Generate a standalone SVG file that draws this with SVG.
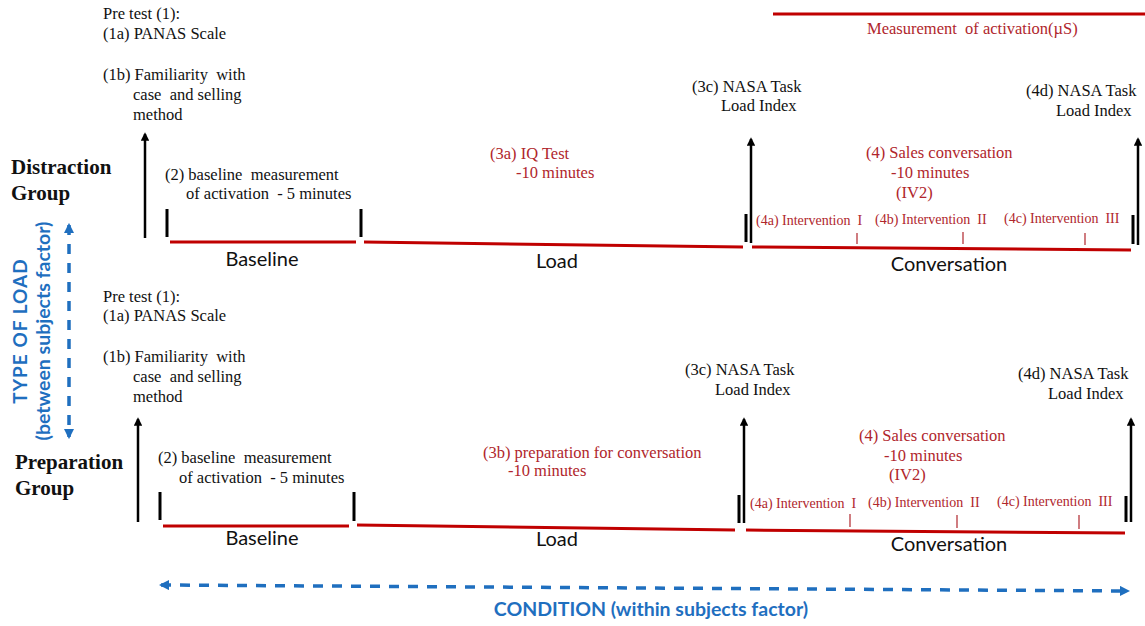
<svg xmlns="http://www.w3.org/2000/svg" width="1145" height="626" viewBox="0 0 1145 626">
<defs>
<style>
.s{font-family:"Liberation Serif","Times New Roman",serif;font-size:16.5px;fill:#111;white-space:pre}
.r{fill:#B0262C}
.sm{font-size:14px}
.b{font-weight:bold;font-size:21px}
.ph{font-family:Lato,"Open Sans",sans-serif;font-size:20px;fill:#111;text-anchor:middle}
.bl{font-family:Lato,"Open Sans",sans-serif;font-weight:bold;fill:#1F6FBF}
.rl{stroke:#C00000;stroke-width:3;fill:none}
.tk{stroke:#000;stroke-width:3}
.st{stroke:#B0262C;stroke-width:1.2}
.ar{stroke:#000;stroke-width:2.5;marker-end:url(#ah)}
.da{stroke:#1F6FBF;stroke-width:3.5;stroke-dasharray:10 9;fill:none;marker-start:url(#bh);marker-end:url(#bh)}
</style>
<marker id="ah" viewBox="0 0 10 10" refX="8" refY="5" markerWidth="3.4" markerHeight="3.4" orient="auto" markerUnits="strokeWidth"><path d="M0,0 L10,5 L0,10 z" fill="#000"/></marker>
<marker id="bh" viewBox="0 0 10 10" refX="8" refY="5" markerWidth="3" markerHeight="3" orient="auto-start-reverse" markerUnits="strokeWidth"><path d="M0,0 L10,5 L0,10 z" fill="#1F6FBF"/></marker>
</defs>
<rect width="1145" height="626" fill="#fff"/>

<g id="measurement">
<line class="rl" x1="773" y1="14" x2="1145" y2="14"/>
<text class="s r" x="867" y="34">Measurement  of activation(µS)</text>
</g>

<!-- Distraction group -->
<g id="distraction-label"><text class="s b" x="11" y="174">Distraction</text><text class="s b" x="11" y="200">Group</text></g>
<g id="d-pretest">
<text class="s" x="103" y="19">Pre test (1):</text>
<text class="s" x="103" y="39">(1a) PANAS Scale</text>
<text class="s" x="103" y="80">(1b) Familiarity  with</text>
<text class="s" x="133" y="100">case  and selling</text>
<text class="s" x="133" y="120">method</text>
</g>
<g id="d-baseline">
<text class="s" x="165" y="180">(2) baseline  measurement</text>
<text class="s" x="186" y="199">of activation  - 5 minutes</text>
<text class="ph" x="262" y="266">Baseline</text>
</g>
<g id="d-load">
<text class="s r" x="490" y="159">(3a) IQ Test</text>
<text class="s r" x="516" y="178">-10 minutes</text>
<text class="ph" x="557" y="268">Load</text>
</g>
<g id="d-nasa1">
<text class="s" x="692" y="92">(3c) NASA Task</text>
<text class="s" x="721" y="111">Load Index</text>
</g>
<g id="d-conversation">
<text class="s r" x="866" y="158">(4) Sales conversation</text>
<text class="s r" x="891" y="178">-10 minutes</text>
<text class="s r" x="896" y="198">(IV2)</text>
<text class="s r sm" x="756" y="225">(4a) Intervention  I</text>
<text class="s r sm" x="875" y="224">(4b) Intervention  II</text>
<text class="s r sm" x="1004" y="223">(4c) Intervention  III</text>
<text class="ph" x="949" y="271">Conversation</text>
</g>
<g id="d-nasa2">
<text class="s" x="1026" y="96">(4d) NASA Task</text>
<text class="s" x="1056" y="116">Load Index</text>
</g>

<!-- Preparation group -->
<g id="preparation-label"><text class="s b" x="15" y="469">Preparation</text><text class="s b" x="15" y="495">Group</text></g>
<g id="p-pretest">
<text class="s" x="103" y="302">Pre test (1):</text>
<text class="s" x="103" y="321">(1a) PANAS Scale</text>
<text class="s" x="103" y="362">(1b) Familiarity  with</text>
<text class="s" x="133" y="382">case  and selling</text>
<text class="s" x="133" y="402">method</text>
</g>
<g id="p-baseline">
<text class="s" x="158" y="463">(2) baseline  measurement</text>
<text class="s" x="179" y="483">of activation  - 5 minutes</text>
<text class="ph" x="262" y="545">Baseline</text>
</g>
<g id="p-load">
<text class="s r" x="483" y="458">(3b) preparation for conversation</text>
<text class="s r" x="508" y="476">-10 minutes</text>
<text class="ph" x="557" y="546">Load</text>
</g>
<g id="p-nasa1">
<text class="s" x="685" y="375">(3c) NASA Task</text>
<text class="s" x="715" y="395">Load Index</text>
</g>
<g id="p-conversation">
<text class="s r" x="859" y="441">(4) Sales conversation</text>
<text class="s r" x="884" y="461">-10 minutes</text>
<text class="s r" x="889" y="480">(IV2)</text>
<text class="s r sm" x="750" y="508">(4a) Intervention  I</text>
<text class="s r sm" x="868" y="507">(4b) Intervention  II</text>
<text class="s r sm" x="997" y="506">(4c) Intervention  III</text>
<text class="ph" x="949" y="551">Conversation</text>
</g>
<g id="p-nasa2">
<text class="s" x="1018" y="379">(4d) NASA Task</text>
<text class="s" x="1048" y="399">Load Index</text>
</g>

<g id="type-of-load">
<text class="bl" font-size="19" letter-spacing="1" text-anchor="middle" transform="translate(27,331) rotate(-90)">TYPE OF LOAD</text>
<text class="bl" font-size="19.5" text-anchor="middle" transform="translate(50,331) rotate(-90)">(between subjects factor)</text>
</g>
<g id="condition">
<text class="bl" font-size="19.5" x="651" y="616" text-anchor="middle">CONDITION (within subjects factor)</text>
</g>

<g id="connectors">
<!-- distraction timeline -->
<polyline class="rl" points="170,242 356,242"/>
<polyline class="rl" points="364,242 743,247"/>
<polyline class="rl" points="752,247 1131,250"/>
<line class="tk" x1="167" y1="209" x2="167" y2="237"/>
<line class="tk" x1="361" y1="209" x2="361" y2="237"/>
<line class="tk" x1="746" y1="214" x2="746" y2="242"/>
<line class="tk" x1="1133" y1="215" x2="1133" y2="244"/>
<line class="st" x1="857" y1="233" x2="857" y2="244"/>
<line class="st" x1="963" y1="232" x2="963" y2="244"/>
<line class="st" x1="1085" y1="233" x2="1085" y2="245"/>
<line class="ar" x1="145" y1="238" x2="145" y2="134"/>
<line class="ar" x1="751" y1="243" x2="751" y2="139"/>
<line class="ar" x1="1138" y1="245" x2="1138" y2="139"/>
<!-- preparation timeline -->
<polyline class="rl" points="163,526 349,526"/>
<polyline class="rl" points="357,525 735,530"/>
<polyline class="rl" points="746,530 1125,533"/>
<line class="tk" x1="160" y1="492" x2="160" y2="520"/>
<line class="tk" x1="354" y1="492" x2="354" y2="521"/>
<line class="tk" x1="739" y1="495" x2="739" y2="523"/>
<line class="tk" x1="1126" y1="496" x2="1126" y2="522"/>
<line class="st" x1="850" y1="514" x2="850" y2="527"/>
<line class="st" x1="957" y1="515" x2="957" y2="528"/>
<line class="st" x1="1079" y1="515" x2="1079" y2="529"/>
<line class="ar" x1="138" y1="522" x2="138" y2="419"/>
<line class="ar" x1="744" y1="523" x2="744" y2="419"/>
<line class="ar" x1="1131" y1="522" x2="1131" y2="419"/>
<!-- factor arrows -->
<line class="da" x1="69" y1="225" x2="69" y2="437"/>
<line class="da" x1="161" y1="585" x2="1128" y2="591"/>
</g>
</svg>
